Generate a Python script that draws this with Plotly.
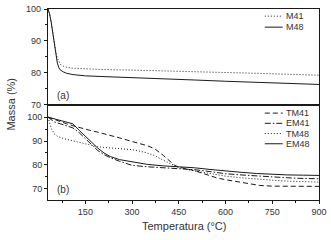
import plotly.graph_objects as go

# ---- Panel (a) data ----
T_M48 = [30, 35, 40, 45, 50, 55, 60, 65, 70, 80, 90, 110, 150, 200, 300, 400, 500, 600, 700, 800, 900]
M48 = [100, 98.5, 96, 92.5, 89, 85.5, 83, 81.5, 80.8, 80.2, 79.8, 79.4, 79.0, 78.8, 78.5, 78.1, 77.7, 77.3, 76.9, 76.6, 76.3]
T_M41 = [30, 35, 40, 45, 50, 55, 60, 65, 70, 80, 90, 110, 150, 200, 300, 400, 500, 600, 700, 800, 900]
M41 = [100, 98.5, 96, 92.5, 89.5, 86.5, 84.5, 83.3, 82.6, 82.0, 81.7, 81.4, 81.2, 81.0, 80.8, 80.6, 80.4, 80.1, 79.8, 79.5, 79.2]

# ---- Panel (b) data ----
T_TM41 = [30, 50, 70, 90, 110, 130, 150, 170, 190, 210, 230, 260, 300, 350, 373, 400, 437, 450, 500, 571, 600, 650, 710, 750, 800, 900]
TM41 = [100, 99, 98, 97.2, 96.4, 95.6, 95, 94.3, 93.7, 93.1, 92.4, 91.3, 89.8, 88.0, 86.7, 84.0, 79.8, 79.1, 77.6, 74.6, 73.8, 72.6, 71.4, 71.1, 71.0, 71.0]
T_EM41 = [30, 50, 70, 90, 110, 130, 150, 170, 190, 210, 230, 260, 300, 350, 400, 450, 500, 550, 600, 650, 700, 750, 800, 850, 900]
EM41 = [100, 98, 97.2, 96.5, 95.5, 93.5, 91, 88.3, 86, 84.3, 83, 81.5, 79.8, 79.2, 78.9, 78.6, 78.0, 77.2, 76.3, 75.8, 75.3, 75.0, 74.6, 74.3, 74.2]
T_TM48 = [30, 40, 50, 60, 80, 110, 130, 160, 190, 220, 260, 300, 340, 370, 400, 430, 450, 500, 550, 600, 650, 700, 750, 800, 850, 900]
TM48 = [100, 95.5, 93, 92, 91, 90, 89.6, 88.5, 87.6, 87.2, 86.9, 86.4, 85.3, 84, 82, 80, 78.8, 77.5, 76.3, 75.3, 74.6, 74.0, 73.6, 73.2, 72.9, 72.8]
T_EM48 = [30, 50, 70, 90, 110, 130, 150, 170, 190, 210, 230, 260, 300, 350, 400, 450, 500, 550, 600, 650, 700, 750, 800, 850, 900]
EM48 = [100, 99.3, 98.6, 98, 97.2, 94.5, 92, 89.5, 87, 85, 83.5, 82.2, 81.2, 80.2, 79.6, 79.3, 78.8, 78.1, 77.4, 76.9, 76.4, 76.0, 75.8, 75.7, 75.6]

X_TICKS = [150, 300, 450, 600, 750, 900]
Y_TICKS = [70, 80, 90, 100]
Y_MINOR = [75, 85, 95]

DOT = "1px,2px"
DASH = "5px,3px"
DASHDOT = "6px,2px,1.5px,2px"
LC = "#1a1a1a"
TXT = "#333333"
FONT = "Liberation Sans, Arial, sans-serif"

series_a = [("M41", T_M41, M41, DOT), ("M48", T_M48, M48, "solid")]
series_b = [("TM41", T_TM41, TM41, DASH), ("EM41", T_EM41, EM41, DASHDOT),
            ("TM48", T_TM48, TM48, DOT), ("EM48", T_EM48, EM48, "solid")]

fig = go.Figure()
for name, t, v, d in series_a:
    fig.add_trace(go.Scatter(x=t, y=v, mode="lines", name=name, xaxis="x2", yaxis="y2",
                             line=dict(color=LC, width=1, dash=d), showlegend=False))
for name, t, v, d in series_b:
    fig.add_trace(go.Scatter(x=t, y=v, mode="lines", name=name, xaxis="x", yaxis="y",
                             line=dict(color=LC, width=1, dash=d), showlegend=False))

shapes = []
annotations = []

def add_legend(series, xref, yref, y0, step):
    for i, (name, _, _, d) in enumerate(series):
        yy = y0 - i * step
        shapes.append(dict(type="line", xref=xref, yref=yref, x0=0.80, x1=0.866, y0=yy, y1=yy,
                           line=dict(color=LC, width=1, dash=d)))
        annotations.append(dict(text=name, xref=xref, yref=yref, x=0.87, y=yy, xanchor="left",
                                yanchor="middle", showarrow=False,
                                font=dict(size=9, color=TXT, family=FONT)))

add_legend(series_a, "x2 domain", "y2 domain", 0.925, 0.115)
add_legend(series_b, "x domain", "y domain", 0.91, 0.107)

# tick labels of the upper panel's y axis, placed at the axis values
for v in Y_TICKS:
    annotations.append(dict(text=str(v), xref="x2 domain", yref="y2", x=0, y=v, xshift=-5,
                            xanchor="right", yanchor="middle", showarrow=False,
                            font=dict(size=9, color=TXT, family=FONT)))

annotations.append(dict(text="(a)", xref="x2 domain", yref="y2 domain", x=0.025, y=0.09,
                        xanchor="left", yanchor="middle", showarrow=False,
                        font=dict(size=10, color=TXT, family=FONT)))
annotations.append(dict(text="(b)", xref="x domain", yref="y domain", x=0.025, y=0.11,
                        xanchor="left", yanchor="middle", showarrow=False,
                        font=dict(size=10, color=TXT, family=FONT)))
annotations.append(dict(text="Massa (%)", xref="paper", yref="paper", x=-0.14, y=0.5,
                        xanchor="center", yanchor="middle", textangle=-90, showarrow=False,
                        font=dict(size=11, color=TXT, family=FONT)))
annotations.append(dict(text="Temperatura (°C)", xref="paper", yref="paper", x=0.5, y=-0.135,
                        xanchor="center", yanchor="middle", showarrow=False,
                        font=dict(size=11, color=TXT, family=FONT)))

axis_common = dict(showline=True, linecolor=LC, linewidth=1, mirror=True, showgrid=False,
                   zeroline=False, automargin=False,
                   tickfont=dict(size=9, color=TXT, family=FONT),
                   tickcolor=LC, ticklen=3, tickwidth=1)

y_major = dict(tickmode="array", tickvals=Y_TICKS, ticktext=[str(v) for v in Y_TICKS],
               ticks="outside",
               minor=dict(tickmode="array", tickvals=Y_MINOR, ticks="outside", ticklen=2, tickcolor=LC))

fig.update_layout(
    width=331, height=240,
    margin=dict(l=48, r=12, t=9, b=40, autoexpand=False),
    paper_bgcolor="white", plot_bgcolor="white",
    font=dict(family=FONT, color=TXT),
    showlegend=False,
    xaxis=dict(domain=[0, 1], anchor="y", range=[30, 900], tickvals=X_TICKS, ticks="outside",
               minor=dict(dtick=75, tick0=0, ticks="outside", ticklen=2, tickcolor=LC),
               **axis_common),
    yaxis=dict(domain=[0, 0.5], anchor="x", range=[65.3, 105.3], **y_major, **axis_common),
    xaxis2=dict(domain=[0, 1], anchor="y2", range=[30, 900], showticklabels=False,
                ticks="", **axis_common),
    yaxis2=dict(domain=[0.5, 1], anchor="x2", range=[70, 100], **y_major, **axis_common),
    shapes=shapes,
    annotations=annotations,
)
fig.update_yaxes(showticklabels=False, selector=dict(anchor="x2"))

fig.write_html("out.html", config={"displayModeBar": False},
               post_script="document.body.style.margin='0';document.body.style.padding='0';")
